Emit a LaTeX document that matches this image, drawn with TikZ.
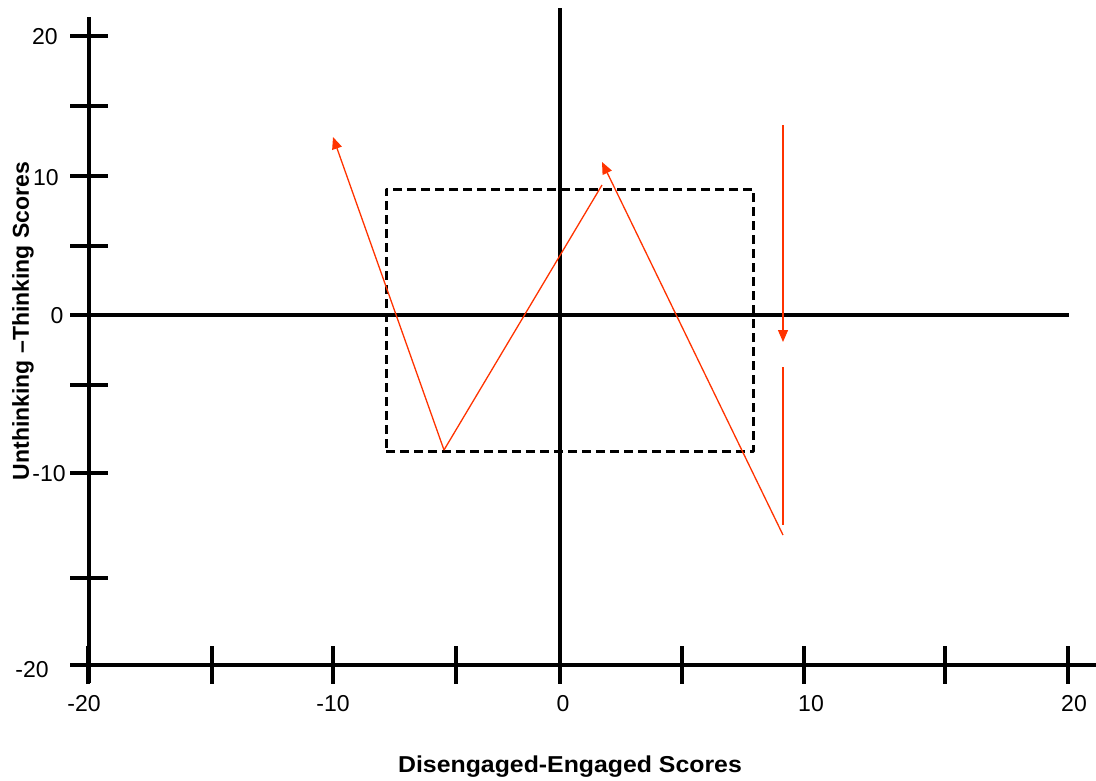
\documentclass[tikz,border=0pt]{standalone}
\usepackage{fontspec}
\setmainfont{Liberation Sans}
\usetikzlibrary{arrows.meta}
\definecolor{arrowred}{HTML}{FF3300}
\tikzset{
  axisline/.style={line width=3.3pt, black},
  tickline/.style={line width=3.3pt, black},
  boxline/.style={line width=3pt, black, dash pattern=on 9pt off 5pt, line join=round},
  redline/.style={line width=1.3pt, arrowred},
  redarrow/.style={redline, -{Triangle[length=12pt,width=10pt]}},
  ticklabel/.style={font=\fontsize{23}{23}\selectfont, inner sep=0pt},
  titlelabel/.style={font=\fontsize{23}{23}\selectfont\bfseries, inner sep=0pt}
}
\begin{document}
\begin{tikzpicture}[x=1pt,y=-1pt]
\useasboundingbox (0,0) rectangle (1096,780);
% axes
\draw[axisline] (89,17) -- (89,683);
\draw[axisline] (70,665) -- (1096,665);
\draw[axisline] (560,8) -- (560,684);
\draw[axisline] (70,315) -- (1069,315);
% left ticks
\foreach \yy in {36,106,176,246,315,385,473,578,665}
  \draw[tickline] (70,\yy) -- (108,\yy);
% bottom ticks
\foreach \xx in {88,212,333,456,560,682,804,945,1068}
  \draw[tickline] (\xx,646) -- (\xx,684);
% tick labels
\node[ticklabel] (ly20) at (45,37) {20};
\node[ticklabel] (ly10) at (46,178) {10};
\node[ticklabel] (ly0) at (57,316) {0};
\node[ticklabel] (lym10) at (49,474) {-10};
\node[ticklabel] (lym20) at (32,670) {-20};
\node[ticklabel] (lxm20) at (84,704) {-20};
\node[ticklabel] (lxm10) at (333,704) {-10};
\node[ticklabel] (lx0) at (563,704) {0};
\node[ticklabel] (lx10) at (811,704) {10};
\node[ticklabel] (lx20) at (1074,704) {20};
% titles
\node[titlelabel, xscale=1.08] (xtitle) at (570,767) {Disengaged-Engaged Scores};
\node[titlelabel, rotate=90] (ytitle) at (23,321) {Unthinking –Thinking Scores};
% dashed box
\node[boxline, draw, minimum width=367pt, minimum height=262pt, inner sep=0pt] (box) at (569.5,320) {};
% red path points
\coordinate (a) at (444,450);
\coordinate (t1) at (333,137);
\coordinate (b) at (602,185);
\coordinate (c) at (783,535);
\coordinate (t3) at (602,162);
\coordinate (d) at (783,125);
\coordinate (t4) at (783,342);
\coordinate (e) at (783,367);
\coordinate (f) at (783,525);
\draw[redarrow] (a) -- (t1);
\draw[redline] (a) -- (b);
\draw[redarrow] (c) -- (t3);
\draw[redarrow] (d) -- (t4);
\draw[redline] (e) -- (f);
\end{tikzpicture}
\end{document}
